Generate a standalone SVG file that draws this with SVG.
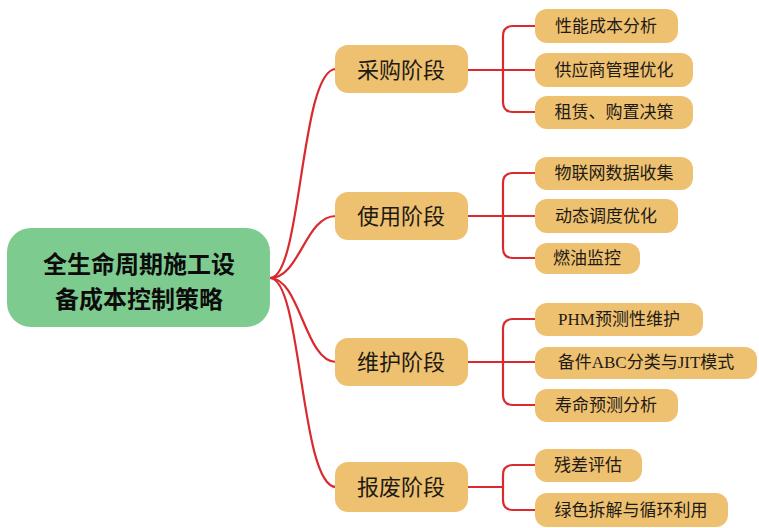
<svg xmlns="http://www.w3.org/2000/svg" width="759" height="528" viewBox="0 0 759 528">
<style>
.c{fill:none;stroke:#d92a2e;stroke-width:2.2;stroke-linecap:round;stroke-linejoin:round}
.st{fill:#eec171}
.lf{fill:#eec171}
.rt{fill:#7ecb8f}
.ts{font-family:"Liberation Serif","Noto Sans CJK SC",serif;font-size:22px;fill:#1e1a14;text-anchor:middle;dominant-baseline:central}
.tl{font-family:"Liberation Serif","Noto Sans CJK SC",serif;font-size:17px;fill:#1e1a14;text-anchor:middle;dominant-baseline:central}
.tr{font-family:"Noto Sans CJK SC",sans-serif;font-size:24px;font-weight:bold;fill:#0c0c0c;text-anchor:middle;dominant-baseline:central}
</style>
<rect width="759" height="528" fill="#ffffff"/>
<g id="connectors">
<path class="c" d="M270,278 C302,278 300,69 336,69"/>
<path class="c" d="M270,278 C300,278 305,216 336,216"/>
<path class="c" d="M270,278 C300,278 305,362 336,362"/>
<path class="c" d="M270,278 C302,278 300,487 336,487"/>
<path class="c" d="M468,70 L503,70 M535,26 L513,26 Q503,26 503,36 L503,102 Q503,112 513,112 L535,112 M503,70 L535,70"/>
<path class="c" d="M468,216 L503,216 M535,173 L513,173 Q503,173 503,183 L503,248 Q503,258 513,258 L535,258 M503,216 L535,216"/>
<path class="c" d="M468,362 L503,362 M535,319 L513,319 Q503,319 503,329 L503,395 Q503,405 513,405 L535,405 M503,362 L535,362"/>
<path class="c" d="M468,487 L503,487 M535,465 L513,465 Q503,465 503,475 L503,500 Q503,510 513,510 L535,510"/>
</g>
<g id="root"><rect class="rt" x="7" y="228" width="263" height="99" rx="24"/><text class="tr" x="139" y="262">全生命周期施工设</text><text class="tr" x="139" y="297">备成本控制策略</text></g>
<g id="s1"><rect class="st" x="335" y="45" width="133" height="48" rx="13"/><text class="ts" x="401" y="70">采购阶段</text></g>
<g id="s2"><rect class="st" x="335" y="192" width="133" height="48" rx="13"/><text class="ts" x="401" y="216">使用阶段</text></g>
<g id="s3"><rect class="st" x="335" y="338" width="133" height="48" rx="13"/><text class="ts" x="401" y="362">维护阶段</text></g>
<g id="s4"><rect class="st" x="335" y="462" width="133" height="50" rx="13"/><text class="ts" x="401" y="487">报废阶段</text></g>
<g id="l1"><rect class="lf" x="535" y="9" width="143" height="34" rx="12"/><text class="tl" x="606" y="26">性能成本分析</text></g>
<g id="l2"><rect class="lf" x="535" y="53" width="158" height="34" rx="12"/><text class="tl" x="614" y="70">供应商管理优化</text></g>
<g id="l3"><rect class="lf" x="535" y="96" width="158" height="33" rx="12"/><text class="tl" x="614" y="112">租赁、购置决策</text></g>
<g id="l4"><rect class="lf" x="535" y="157" width="158" height="33" rx="12"/><text class="tl" x="614" y="173">物联网数据收集</text></g>
<g id="l5"><rect class="lf" x="535" y="199" width="143" height="34" rx="12"/><text class="tl" x="606" y="216">动态调度优化</text></g>
<g id="l6"><rect class="lf" x="535" y="243" width="105" height="31" rx="12"/><text class="tl" x="587" y="258">燃油监控</text></g>
<g id="l7"><rect class="lf" x="535" y="303" width="168" height="33" rx="12"/><text class="tl" x="619" y="319">PHM预测性维护</text></g>
<g id="l8"><rect class="lf" x="535" y="347" width="222" height="32" rx="12"/><text class="tl" x="646" y="362">备件ABC分类与JIT模式</text></g>
<g id="l9"><rect class="lf" x="535" y="389" width="143" height="33" rx="12"/><text class="tl" x="606" y="405">寿命预测分析</text></g>
<g id="l10"><rect class="lf" x="535" y="449" width="107" height="33" rx="12"/><text class="tl" x="588" y="465">残差评估</text></g>
<g id="l11"><rect class="lf" x="535" y="493" width="193" height="34" rx="12"/><text class="tl" x="631" y="510">绿色拆解与循环利用</text></g>
</svg>
